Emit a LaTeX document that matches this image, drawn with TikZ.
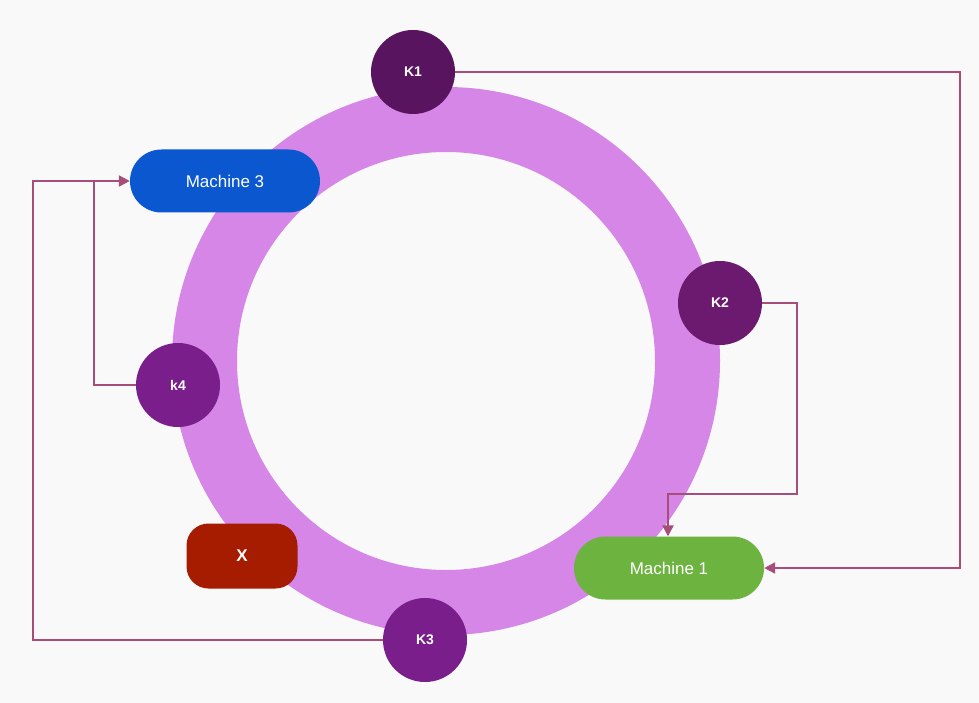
\documentclass[tikz,border=0pt]{standalone}
\usepackage{fontspec}
\setmainfont{Liberation Sans}
\usetikzlibrary{arrows.meta,shapes.misc}
\definecolor{bg}{HTML}{F9F9F9}
\definecolor{ring}{HTML}{D586E6}
\definecolor{kone}{HTML}{58145F}
\definecolor{ktwo}{HTML}{6C1A70}
\definecolor{kthree}{HTML}{7A1E8C}
\definecolor{mthree}{HTML}{0B57D0}
\definecolor{mone}{HTML}{6DB33F}
\definecolor{xred}{HTML}{A51C00}
\definecolor{wire}{HTML}{A64D79}
\begin{document}
\begin{tikzpicture}[x=1pt,y=-1pt,
  knode/.style={circle,minimum size=84pt,inner sep=0pt,text=white,font=\bfseries\fontsize{14}{16}\selectfont},
  mnode/.style={rounded rectangle,minimum width=190pt,minimum height=63pt,inner sep=0pt,text=white,font=\fontsize{17}{20}\selectfont},
  wire/.style={draw=wire,line width=2.2pt,-{Triangle[length=11pt,width=11pt]}},
  plain/.style={draw=wire,line width=2.2pt}]
\fill[bg] (0,0) rectangle (979,703);
\useasboundingbox (0,0) rectangle (979,703);
\draw[ring,line width=65pt] (446,361) circle (241.5);
\node[mnode,fill=mthree] (m3) at (225,181) {Machine 3};
\node[mnode,fill=mone] (m1) at (669,568) {Machine 1};
\node[rounded corners=22pt,fill=xred,minimum width=111pt,minimum height=65pt,text=white,font=\bfseries\fontsize{17}{20}\selectfont] (x) at (242,556) {X};
\node[knode,fill=kone] (k1) at (413,72) {K1};
\node[knode,fill=ktwo] (k2) at (720,303) {K2};
\node[knode,fill=kthree] (k4) at (178,385) {k4};
\node[knode,fill=kthree] (k3) at (425,640) {K3};
\coordinate (a1) at (960,72);
\coordinate (a2) at (960,568);
\draw[wire] (k1.east) -- (a1) -- (a2) -- (m1.east);
\coordinate (b1) at (797,303);
\coordinate (b2) at (797,494);
\coordinate (b3) at (668,494);
\draw[wire] (k2.east) -- (b1) -- (b2) -- (b3) -- (m1.north -| b3);
\coordinate (c1) at (94,385);
\coordinate (c2) at (94,181);
\draw[wire] (k4.west) -- (c1) -- (c2) -- (m3.west);
\coordinate (d1) at (33,640);
\coordinate (d2) at (33,181);
\draw[plain] (k3.west) -- (d1) -- (d2) -- (c2);
\end{tikzpicture}
\end{document}
